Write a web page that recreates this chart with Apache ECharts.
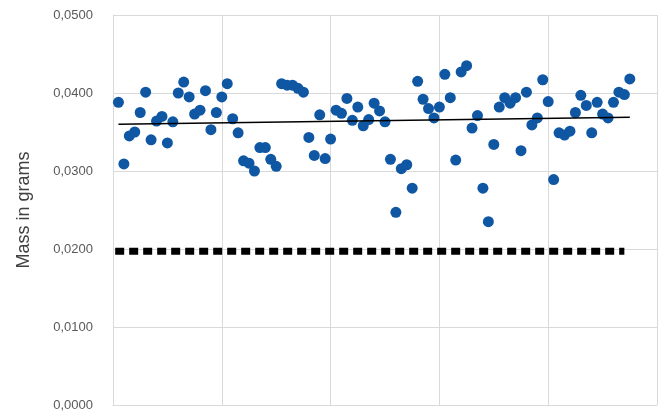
<!DOCTYPE html>
<html>
<head>
<meta charset="utf-8">
<script src="https://cdn.jsdelivr.net/npm/echarts@6/dist/echarts.min.js"></script>
<style>
  html, body { margin: 0; padding: 0; background: #ffffff; }
  #chart { width: 663px; height: 412px; }
</style>
</head>
<body>
<div id="chart"></div>
<script>
// Sample index (1..95) and measured mass in grams
const sampleValues = [
  0.0388, 0.0309, 0.0345, 0.0350, 0.0375, 0.0401, 0.0340, 0.0364, 0.0370, 0.0336,
  0.0363, 0.0400, 0.0414, 0.0395, 0.0373, 0.0378, 0.0403, 0.0353, 0.0375, 0.0395,
  0.0412, 0.0367, 0.0349, 0.0313, 0.0310, 0.0300, 0.0330, 0.0330, 0.0315, 0.0306,
  0.0412, 0.0410, 0.0410, 0.0406, 0.0401, 0.0343, 0.0320, 0.0372, 0.0316, 0.0341,
  0.0378, 0.0374, 0.0393, 0.0365, 0.0382, 0.0358, 0.0366, 0.0387, 0.0377, 0.0363,
  0.0315, 0.0247, 0.0303, 0.0308, 0.0278, 0.0415, 0.0392, 0.0380, 0.0368, 0.0382,
  0.0424, 0.0394, 0.0314, 0.0427, 0.0435, 0.0355, 0.0371, 0.0278, 0.0235, 0.0334,
  0.0382, 0.0394, 0.0387, 0.0394, 0.0326, 0.0401, 0.0359, 0.0368, 0.0417, 0.0389,
  0.0289, 0.0349, 0.0346, 0.0351, 0.0375, 0.0397, 0.0384, 0.0349, 0.0388, 0.0373,
  0.0368, 0.0388, 0.0401, 0.0398, 0.0418
];
// Linear trendline endpoints [x, y]
const trendStart = [1, 0.0360];
const trendEnd = [95, 0.0369];
// Reference limit line (dotted)
const limitValue = 0.0197;
const limitXRange = [0.4, 94];
// Y-axis ticks
const yTicks = [0, 0.01, 0.02, 0.03, 0.04, 0.05];

const scatterData = sampleValues.map((v, i) => [i + 1, v]);

const chart = echarts.init(document.getElementById('chart'), null, { renderer: 'canvas' });
chart.setOption({
  animation: false,
  backgroundColor: '#ffffff',
  grid: { left: 113, right: 6, top: 15, bottom: 7, containLabel: false },
  xAxis: {
    type: 'value', min: 0, max: 100, interval: 20,
    axisLine: { show: true, lineStyle: { color: '#d9d9d9', width: 1 } },
    axisTick: { show: false },
    axisLabel: { show: false },
    splitLine: { show: true, lineStyle: { color: '#d9d9d9', width: 1 } }
  },
  yAxis: {
    type: 'value', min: yTicks[0], max: yTicks[yTicks.length - 1], interval: 0.01,
    name: 'Mass in grams', nameLocation: 'middle', nameGap: 80,
    nameTextStyle: { fontFamily: 'Liberation Sans', fontSize: 18, color: '#404040' },
    axisLine: { show: true, lineStyle: { color: '#d9d9d9', width: 1 } },
    axisTick: { show: false },
    axisLabel: {
      margin: 20, fontFamily: 'Liberation Sans', fontSize: 13, color: '#595959',
      formatter: v => v.toFixed(4).replace('.', ',')
    },
    splitLine: { show: true, lineStyle: { color: '#d9d9d9', width: 1 } }
  },
  series: [
    {
      type: 'line',
      data: [[limitXRange[0], limitValue], [limitXRange[1], limitValue]],
      symbol: 'none',
      lineStyle: { color: '#000000', width: 7, type: [9, 5], cap: 'butt' },
      z: 2
    },
    {
      type: 'scatter',
      data: scatterData,
      symbol: 'circle',
      symbolSize: 11,
      itemStyle: { color: '#0f57a3', opacity: 1 },
      z: 3
    },
    {
      type: 'line',
      data: [trendStart, trendEnd],
      symbol: 'none',
      lineStyle: { color: '#000000', width: 1.5 },
      z: 4
    }
  ]
});
</script>
</body>
</html>
